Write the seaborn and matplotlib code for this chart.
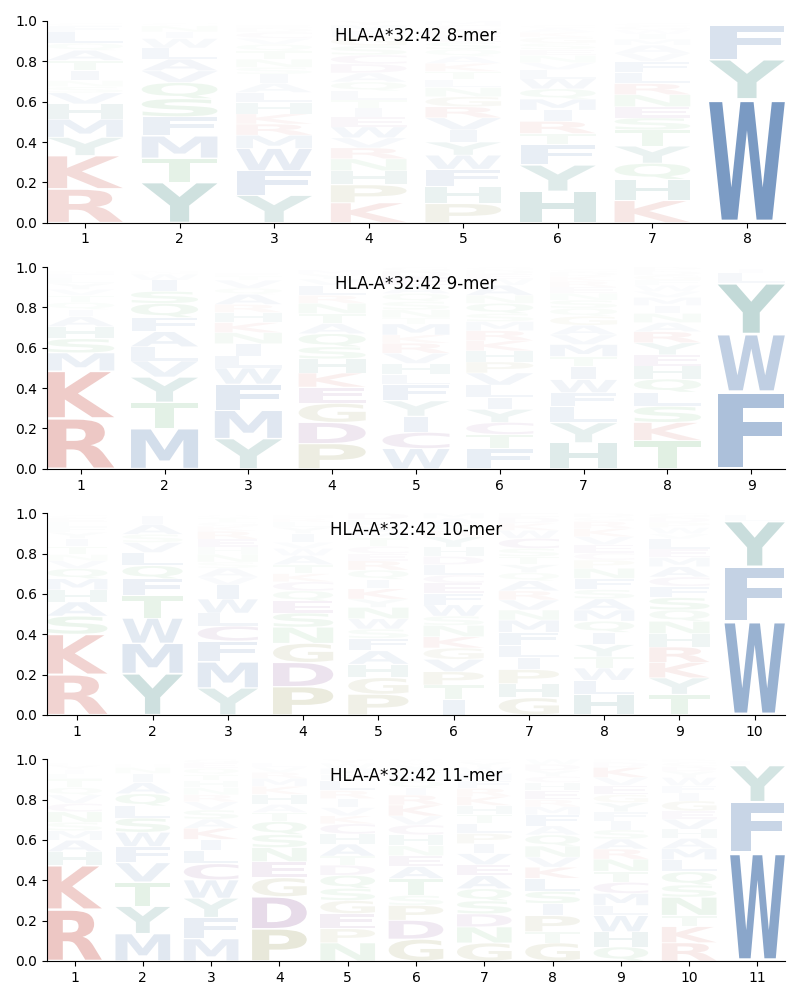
# Sequence logos for HLA-A*32:42 peptides, one panel per peptide length
import matplotlib
matplotlib.use("Agg")
import matplotlib.pyplot as plt
import seaborn as sns
import numpy as np
from matplotlib.font_manager import FontProperties
from matplotlib.patches import PathPatch
from matplotlib.textpath import TextPath
from matplotlib.transforms import Affine2D

allele = "HLA-A*32:42"

# letters of each position, bottom to top, with the share of each letter in %
letters_8 = ["RKYMHVSNITAQLFCD", "YTMFSQVALWINCD", "YFWMRKHLAISNTQVCDEGP",
             "KPHNRVWEITLQADCSGFMY", "PHFWYIVRGNLTKAQSEDCM", "HYFTRIMQWLVNESGKACDP",
             "KHQYTSENRLFVAMIWGCD", "WYFLMI"]
heights_8 = [[16.7, 16.5, 9, 9, 7.5, 5.5, 3, 3, 5, 5, 5, 3.5, 5.5, 3, 1.5, 1],
             [20, 12, 11, 9.5, 9, 8, 5.8, 5.8, 5.5, 4.7, 3.3, 3, 1.4, 1],
             [13.5, 12, 11, 6.5, 5.5, 5, 5.5, 5, 4.5, 4.5, 3.3, 4, 4, 3.3, 3, 3, 2, 1.5, 1, 1],
             [10, 9, 7, 6, 5.5, 5, 5.5, 5, 4.5, 4, 4.5, 4.5, 4.5, 4.5, 4.5, 4.5, 4.5, 3, 3, 2],
             [9.5, 8.5, 8.5, 7, 6.5, 6, 6, 5.5, 5, 4.5, 4, 4, 4, 3.5, 3.5, 3.5, 3, 3, 2.5, 2],
             [15.5, 13, 10, 5.5, 6, 5.5, 5.5, 5, 5, 4.5, 3.5, 3.5, 3, 3, 3, 2.5, 2, 1.5, 1, 1],
             [11, 10.5, 8, 8.5, 8, 6, 5.5, 6, 5.5, 5.5, 5.5, 4, 4, 3, 2.5, 2, 2, 1.5, 1],
             [61, 19.5, 17, 1, 0.5, 0.5]]

letters_9 = ["RKMSHAIQTVYLFNCE", "MTYVLAFQSIWNHE", "YMFWLINKHRAQVTEDGP",
             "PDGEKHSQATNRLVYMFI", "WCIYFLHVRKMTNSQAEDG", "FTCYILVPHKRMSQNAWEDG",
             "HYLFWITMVAGQSNERKDCP", "TKSLQHEYRANIMVWFGDP", "FWYLIM"]
heights_9 = [[25, 23.5, 9, 7, 6, 5, 3.5, 3.5, 3.5, 3, 3, 2.5, 2, 1.5, 1, 1],
             [20, 13, 12.5, 8, 7, 7.5, 7, 7, 6, 5.5, 3, 1.5, 1, 1],
             [15, 14, 13, 8, 6, 6, 5.5, 5, 5, 4, 5, 3, 4, 2, 1.5, 1, 1, 1],
             [12.5, 10.5, 9.5, 8, 7, 7, 6, 6.5, 5, 5, 5, 4, 5, 3, 2.5, 2, 1, 0.5],
             [10, 8, 8, 7.5, 8, 5, 5.5, 5, 5, 4, 5.5, 3, 4, 4, 4, 4, 4, 3, 2],
             [10, 7, 6, 6.5, 6, 6, 6, 5.5, 5.5, 5, 5, 4.5, 4, 5, 4, 5, 3, 2.5, 2, 1.5],
             [13, 10, 8, 7, 6.5, 6.5, 5, 6, 4.8, 4.8, 4.5, 4, 4, 3.5, 3, 3, 2.5, 2, 1.5, 1],
             [14, 9, 8, 7, 6.5, 6.5, 5.5, 6, 5.5, 4.5, 4.5, 4, 4, 3, 3, 2.5, 2.5, 2, 2],
             [38, 28.5, 25, 5, 2, 1]]

letters_10 = ["RKSAHMQVNTIYFLECD", "YMWTFQLVSAINE", "YMFCLWIVASNHERKGTQD",
              "PDGNSEQCKTAWVIYLRHF", "PGHAFSWNYKIQRECTMVLD", "ITPVGKNSWFECLDHYRQAM",
              "GHPILFMNVRAQYTSCWKDE", "HLWTYIQMASFNPCEVKRGD", "TYKRHNQSFCAMELVWPDG", "WFYLI"]
heights_10 = [[20, 20, 9, 7, 6, 5.5, 5, 4, 3, 4, 4, 3, 2.5, 2.5, 2, 1.5, 1],
              [20.5, 15, 12.5, 11, 8.5, 6.5, 6.5, 5, 4, 5, 4, 1, 0.5],
              [13.5, 13, 10.5, 7.5, 6.5, 7, 7, 4, 4.5, 3, 4, 3.5, 4, 4, 2.5, 2, 2, 1.5, 1],
              [14, 12, 9.5, 8, 7, 6, 5, 4.5, 4, 4.5, 4.5, 3.5, 3, 4.5, 3, 2.5, 2, 1.5, 1],
              [10, 8, 6.5, 6.5, 6, 4.5, 5, 5.5, 4, 5, 4.5, 4.5, 4.5, 3.5, 3.5, 4, 3, 3, 3, 3],
              [7.5, 7, 6.5, 6, 5.5, 5.5, 5.5, 4.5, 5.5, 5.5, 5, 4, 5, 4, 4.5, 5, 3, 3, 3, 2.5],
              [8.5, 7, 7, 6, 6, 6.5, 6, 5, 5, 4.5, 5, 4, 4, 4, 4, 5, 4, 3.5, 3, 2],
              [10, 7, 6, 5.5, 6, 6, 5.5, 5.5, 5.5, 4.5, 5.5, 5, 4, 3.5, 4, 4, 4, 3.5, 2, 2],
              [10, 8, 7.5, 7.5, 6.5, 6, 5.5, 6, 5.5, 4.5, 5, 4.5, 4, 5, 2.5, 3, 2.5, 2.5, 2],
              [46.5, 27, 22.5, 3, 1]]

letters_11 = ["RKHAMSNCVQTLIYFED", "MYTVFWSLQAINHEGK", "MFYWCLIKASVRNHTQEG",
              "PDGENSQTAHKMRVLYF", "NPEGSQDTAHCKVIRLFMWY", "GDPSTAENHCVKRIQLFYMW",
              "GNDSQAEVIPLTHKRFMWYC", "GTPISLKVNQAFMREHCYDW", "QHWLMCTNRASIFYGEVKDP",
              "RKTNSQLMAHVEGIFWYDCP", "WFYLI"]
heights_11 = [[24.5, 21, 6.5, 5.5, 4.5, 4, 5, 4, 4, 3.5, 4, 2.5, 2, 2, 1.5, 1, 0.5],
              [13.5, 13.5, 12, 9.5, 8, 7, 7, 6, 6, 5.5, 4.5, 3, 1.5, 1, 1, 0.5],
              [11, 10.5, 9.5, 9, 8, 6.5, 5.5, 5.5, 4.5, 4.5, 4, 3.5, 3.5, 3.5, 3, 3, 2.5, 2],
              [16, 16, 9.5, 8, 7, 6.5, 6.5, 4.5, 4, 5, 4, 4, 3, 2.5, 2, 1, 1],
              [9, 7, 7.5, 6.5, 6, 6.5, 5, 4.5, 6, 5, 5, 4, 4, 4.5, 4, 5, 3, 3, 2.5, 2],
              [11, 9.5, 7.5, 5, 8.5, 6, 5.5, 5, 5.5, 5, 4.5, 5.5, 5, 3.5, 3.5, 3, 2.5, 2.5, 1.5, 1.5],
              [9, 8, 6.5, 6.5, 6, 6.5, 5.5, 5.5, 5, 5, 5, 4.5, 4.5, 4.5, 4, 4, 3.5, 3, 2.5, 1.5],
              [9, 5.5, 8, 6, 6, 6.5, 5.5, 5, 5.5, 5.5, 4.5, 5.5, 4, 3.5, 4.5, 4, 3, 3, 3, 2.5],
              [7, 7.5, 8, 5, 6, 5.5, 5.5, 6, 5, 5, 4.5, 4.5, 4.5, 4.5, 4, 4.5, 4, 5, 2.5, 1.5],
              [9, 8, 5.5, 9, 6, 6.5, 6, 5.5, 5, 4.5, 5, 4, 5, 4, 3.5, 4, 3, 2.5, 2, 1.5],
              [53.5, 25, 18, 2, 1]]

panel_letters = [letters_8, letters_9, letters_10, letters_11]
panel_heights = [heights_8, heights_9, heights_10, heights_11]
lengths = [8, 9, 10, 11]
title_y = [0.925, 0.915, 0.915, 0.915]

# residue groups and the colour of each group
groups = {"RK": "#bb271b", "HY": "#0f6b63", "AFILMVW": "#265a9e",
          "NQST": "#2e9a3e", "CDE": "#6a1f78", "GP": "#72721a"}
palette = {aa: color for members, color in groups.items() for aa in members}

# same glyph handling as a logomaker logo: E limits how far narrow letters stretch
font = FontProperties(family="DejaVu Sans", weight="bold")
col_width = 0.8
vpad = 0.05
width_e = TextPath((0, 0), "E", size=1, prop=font).get_extents().width


def draw_letter(ax, aa, x, bottom, height):
    path = TextPath((0, 0), aa, size=1, prop=font)
    box = path.get_extents()
    x_scale = col_width / max(box.width, width_e)
    glyph_w = box.width * x_scale
    glyph_h = height * (1 - vpad)
    place = (Affine2D().translate(-box.x0, -box.y0)
             .scale(x_scale, glyph_h / box.height)
             .translate(x - glyph_w / 2, bottom + height * vpad / 2))
    # the smallest letters fade out faster than their height
    alpha = height * min(1, height / 0.06)
    ax.add_patch(PathPatch(path, transform=place + ax.transData,
                           facecolor=palette[aa], edgecolor="none",
                           alpha=alpha, lw=0))


fig, axes = plt.subplots(4, 1, figsize=(8, 10))
fig.subplots_adjust(left=0.059, right=0.981, top=0.979, bottom=0.039, hspace=0.22)

for ax, n, letters, heights, ty in zip(axes, lengths, panel_letters, panel_heights, title_y):
    for pos, (col, vals) in enumerate(zip(letters, heights), start=1):
        shares = np.array(vals[:len(col)], dtype=float)
        shares = shares / shares.sum()
        bottoms = np.concatenate([[0], np.cumsum(shares)[:-1]])
        for aa, b, h in zip(col, bottoms, shares):
            draw_letter(ax, aa, pos, b, h)
    ax.set_xlim(0.6, n + 0.4)
    ax.set_ylim(0, 1)
    ax.set_xticks(range(1, n + 1))
    ax.set_yticks(np.arange(0, 1.01, 0.2))
    ax.text(0.5, ty, f"{allele} {n}-mer", transform=ax.transAxes,
            ha="center", va="center", fontsize=12)
    sns.despine(ax=ax)

plt.savefig("out.png", dpi=100)
